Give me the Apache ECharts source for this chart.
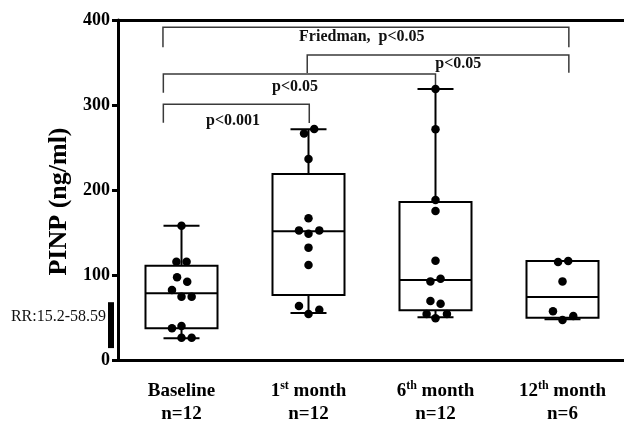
<!DOCTYPE html>
<html>
<head>
<meta charset="utf-8">
<script src="https://cdn.jsdelivr.net/npm/echarts@6/dist/echarts.min.js"></script>
<style>
  html, body { margin: 0; padding: 0; background: #fff; }
  #chart { width: 624px; height: 421px; }
</style>
</head>
<body>
<div id="chart"></div>
<script>
// groups on the x axis and how many patients in each
var groups = ['Baseline', '1st month', '6th month', '12th month'];
var groupN = [12, 12, 12, 6];

// box stats per group: [min, Q1, median, Q3, max]  (PINP, ng/ml)
var boxStats = [
  [25.5, 37.3, 78.4, 111, 158],
  [55.3, 76.5, 151.4, 218.8, 271.4],
  [50.2, 58.4, 94.1, 185.9, 318.8],
  [47.9, 49.8, 74.1, 116.5, 116.5]
];

// single patients: [group index + jitter, value]
var points = [
  [0, 158], [-0.04, 115.7], [0.04, 115.7], [-0.035, 97.3], [0.045, 92],
  [-0.075, 82.4], [0, 74.5], [0.08, 74.5], [-0.075, 37.3], [0, 40],
  [0, 26.3], [0.08, 26.3],
  [0.965, 266.6], [1.045, 271.8], [1, 236.5], [1, 166.7], [0.925, 152.5],
  [1, 148.6], [1.085, 152.5], [1, 132.2], [1, 111.8], [0.925, 63.5],
  [1.085, 59.2], [1, 54.1],
  [2, 318.8], [2, 271.4], [2, 188.2], [2, 175.3], [2, 116.9],
  [1.96, 92.5], [2.04, 95.7], [1.96, 69.4], [2.04, 66.3],
  [1.93, 54.1], [2.09, 54.1], [2, 49],
  [2.965, 115.3], [3.045, 116.5], [3, 92.5], [2.925, 57.3], [3.085, 51.8], [3, 47.1]
];

// significance brackets: [from, to, top, left end, right end, label x, label y, label]
var brackets = [
  [-0.146, 3.05, 391.5, 368, 368, 1.42, 380, 'Friedman,  p<0.05'],
  [0.99, 3.05, 358.8, 337.6, 338, 2.18, 348, 'p<0.05'],
  [-0.143, 2.0, 336.5, 314.5, 318.8, 0.894, 320.8, 'p<0.05'],
  [-0.143, 1.006, 300.8, 279.2, 278.8, 0.406, 281.5, 'p<0.001']
];

// reference range bar (as drawn) and its label
var refRange = [14, 68];
var refLabel = 'RR:15.2-58.59';

var serif = "'Times New Roman', 'Liberation Serif', serif";

var chart = echarts.init(document.getElementById('chart'));

var option = {
  backgroundColor: '#fff',
  animation: false,
  grid: { left: 118, top: 20, width: 508, bottom: 61, outerBoundsMode: 'none' },
  xAxis: [
    {
      type: 'category',
      data: groups,
      position: 'bottom',
      axisLine: { onZero: false, lineStyle: { color: '#000', width: 3 } },
      axisTick: { alignWithLabel: true, length: 13, lineStyle: { color: '#000', width: 3 } },
      axisLabel: {
        interval: 0,
        margin: 20,
        formatter: function (v, i) {
          var m = v.match(/^(\d+)(st|nd|rd|th)(.*)$/);
          var first = m ? '{b|' + m[1] + '}{sup|' + m[2] + '}{b|' + m[3] + '}' : '{b|' + v + '}';
          return first + '\n{b|n=' + groupN[i] + '}';
        },
        rich: {
          b: { fontFamily: serif, fontWeight: 'bold', fontSize: 19, color: '#000', lineHeight: 23 },
          sup: { fontFamily: serif, fontWeight: 'bold', fontSize: 12, color: '#000', lineHeight: 23, verticalAlign: 'top', padding: [0, 0, 7, 0] }
        }
      }
    },
    {
      type: 'category',
      data: groups,
      position: 'top',
      axisLine: { onZero: false, lineStyle: { color: '#000', width: 3 } },
      axisTick: { show: false },
      axisLabel: { show: false }
    },
    { type: 'value', min: -0.5, max: 3.5, show: false }
  ],
  yAxis: {
    type: 'value',
    min: 0,
    max: 400,
    interval: 100,
    name: 'PINP (ng/ml)',
    nameLocation: 'middle',
    nameGap: 46,
    nameTextStyle: { fontFamily: serif, fontWeight: 'bold', fontSize: 26, color: '#000', padding: [0, 23, 0, 0] },
    axisLine: { show: true, onZero: false, lineStyle: { color: '#000', width: 3 } },
    axisTick: { show: true, length: 6, lineStyle: { color: '#000', width: 3 } },
    splitLine: { show: false },
    axisLabel: { fontFamily: serif, fontWeight: 'bold', fontSize: 18, color: '#000', margin: 8 }
  },
  series: [
    {
      name: 'box',
      type: 'custom',
      xAxisIndex: 0,
      data: boxStats.map(function (s, i) { return [i].concat(s); }),
      encode: { x: 0, y: [1, 2, 3, 4, 5] },
      renderItem: function (params, api) {
        var x = api.value(0);
        var lo = api.coord([x, api.value(1)]);
        var q1 = api.coord([x, api.value(2)]);
        var med = api.coord([x, api.value(3)]);
        var q3 = api.coord([x, api.value(4)]);
        var hi = api.coord([x, api.value(5)]);
        var w = api.size([1, 0])[0] * 0.567;
        var c = q1[0];
        var st = { stroke: '#000', lineWidth: 2, fill: null };
        return {
          type: 'group',
          children: [
            { type: 'rect', shape: { x: c - w / 2, y: q3[1], width: w, height: q1[1] - q3[1] }, style: st },
            { type: 'line', shape: { x1: c - w / 2, y1: med[1], x2: c + w / 2, y2: med[1] }, style: st },
            { type: 'line', shape: { x1: c, y1: q3[1], x2: c, y2: hi[1] }, style: st },
            { type: 'line', shape: { x1: c, y1: q1[1], x2: c, y2: lo[1] }, style: st },
            { type: 'line', shape: { x1: c - w / 4, y1: hi[1], x2: c + w / 4, y2: hi[1] }, style: st },
            { type: 'line', shape: { x1: c - w / 4, y1: lo[1], x2: c + w / 4, y2: lo[1] }, style: st }
          ]
        };
      }
    },
    {
      name: 'patients',
      type: 'scatter',
      xAxisIndex: 2,
      data: points,
      symbol: 'circle',
      symbolSize: 8.5,
      itemStyle: { color: '#000', opacity: 1 },
      z: 5
    },
    {
      name: 'brackets',
      type: 'custom',
      xAxisIndex: 2,
      data: brackets.map(function (b) { return b.slice(0, 7); }),
      renderItem: function (params, api) {
        var b = brackets[params.dataIndex];
        var l = api.coord([b[0], b[2]]);
        var r = api.coord([b[1], b[2]]);
        var le = api.coord([b[0], b[3]]);
        var re = api.coord([b[1], b[4]]);
        var t = api.coord([b[5], b[6]]);
        return {
          type: 'group',
          children: [
            { type: 'polyline', shape: { points: [le, l, r, re] }, style: { stroke: '#3a3a3a', lineWidth: 1.5, fill: null } },
            { type: 'text', x: t[0], y: t[1], style: { text: b[7], fill: '#111', align: 'center', verticalAlign: 'middle', font: 'bold 16px ' + serif } }
          ]
        };
      }
    },
    {
      name: 'RR',
      type: 'custom',
      xAxisIndex: 2,
      clip: false,
      data: [[-0.5, refRange[0], refRange[1]]],
      renderItem: function (params, api) {
        var lo = api.coord([api.value(0), api.value(1)]);
        var hi = api.coord([api.value(0), api.value(2)]);
        return {
          type: 'group',
          children: [
            { type: 'rect', shape: { x: lo[0] - 10, y: hi[1], width: 6, height: lo[1] - hi[1] }, style: { fill: '#000' } },
            { type: 'text', x: lo[0] - 12, y: hi[1] + 15, style: { text: refLabel, fill: '#111', align: 'right', verticalAlign: 'middle', font: '16px ' + serif } }
          ]
        };
      }
    }
  ]
};

chart.setOption(option);
</script>
</body>
</html>
